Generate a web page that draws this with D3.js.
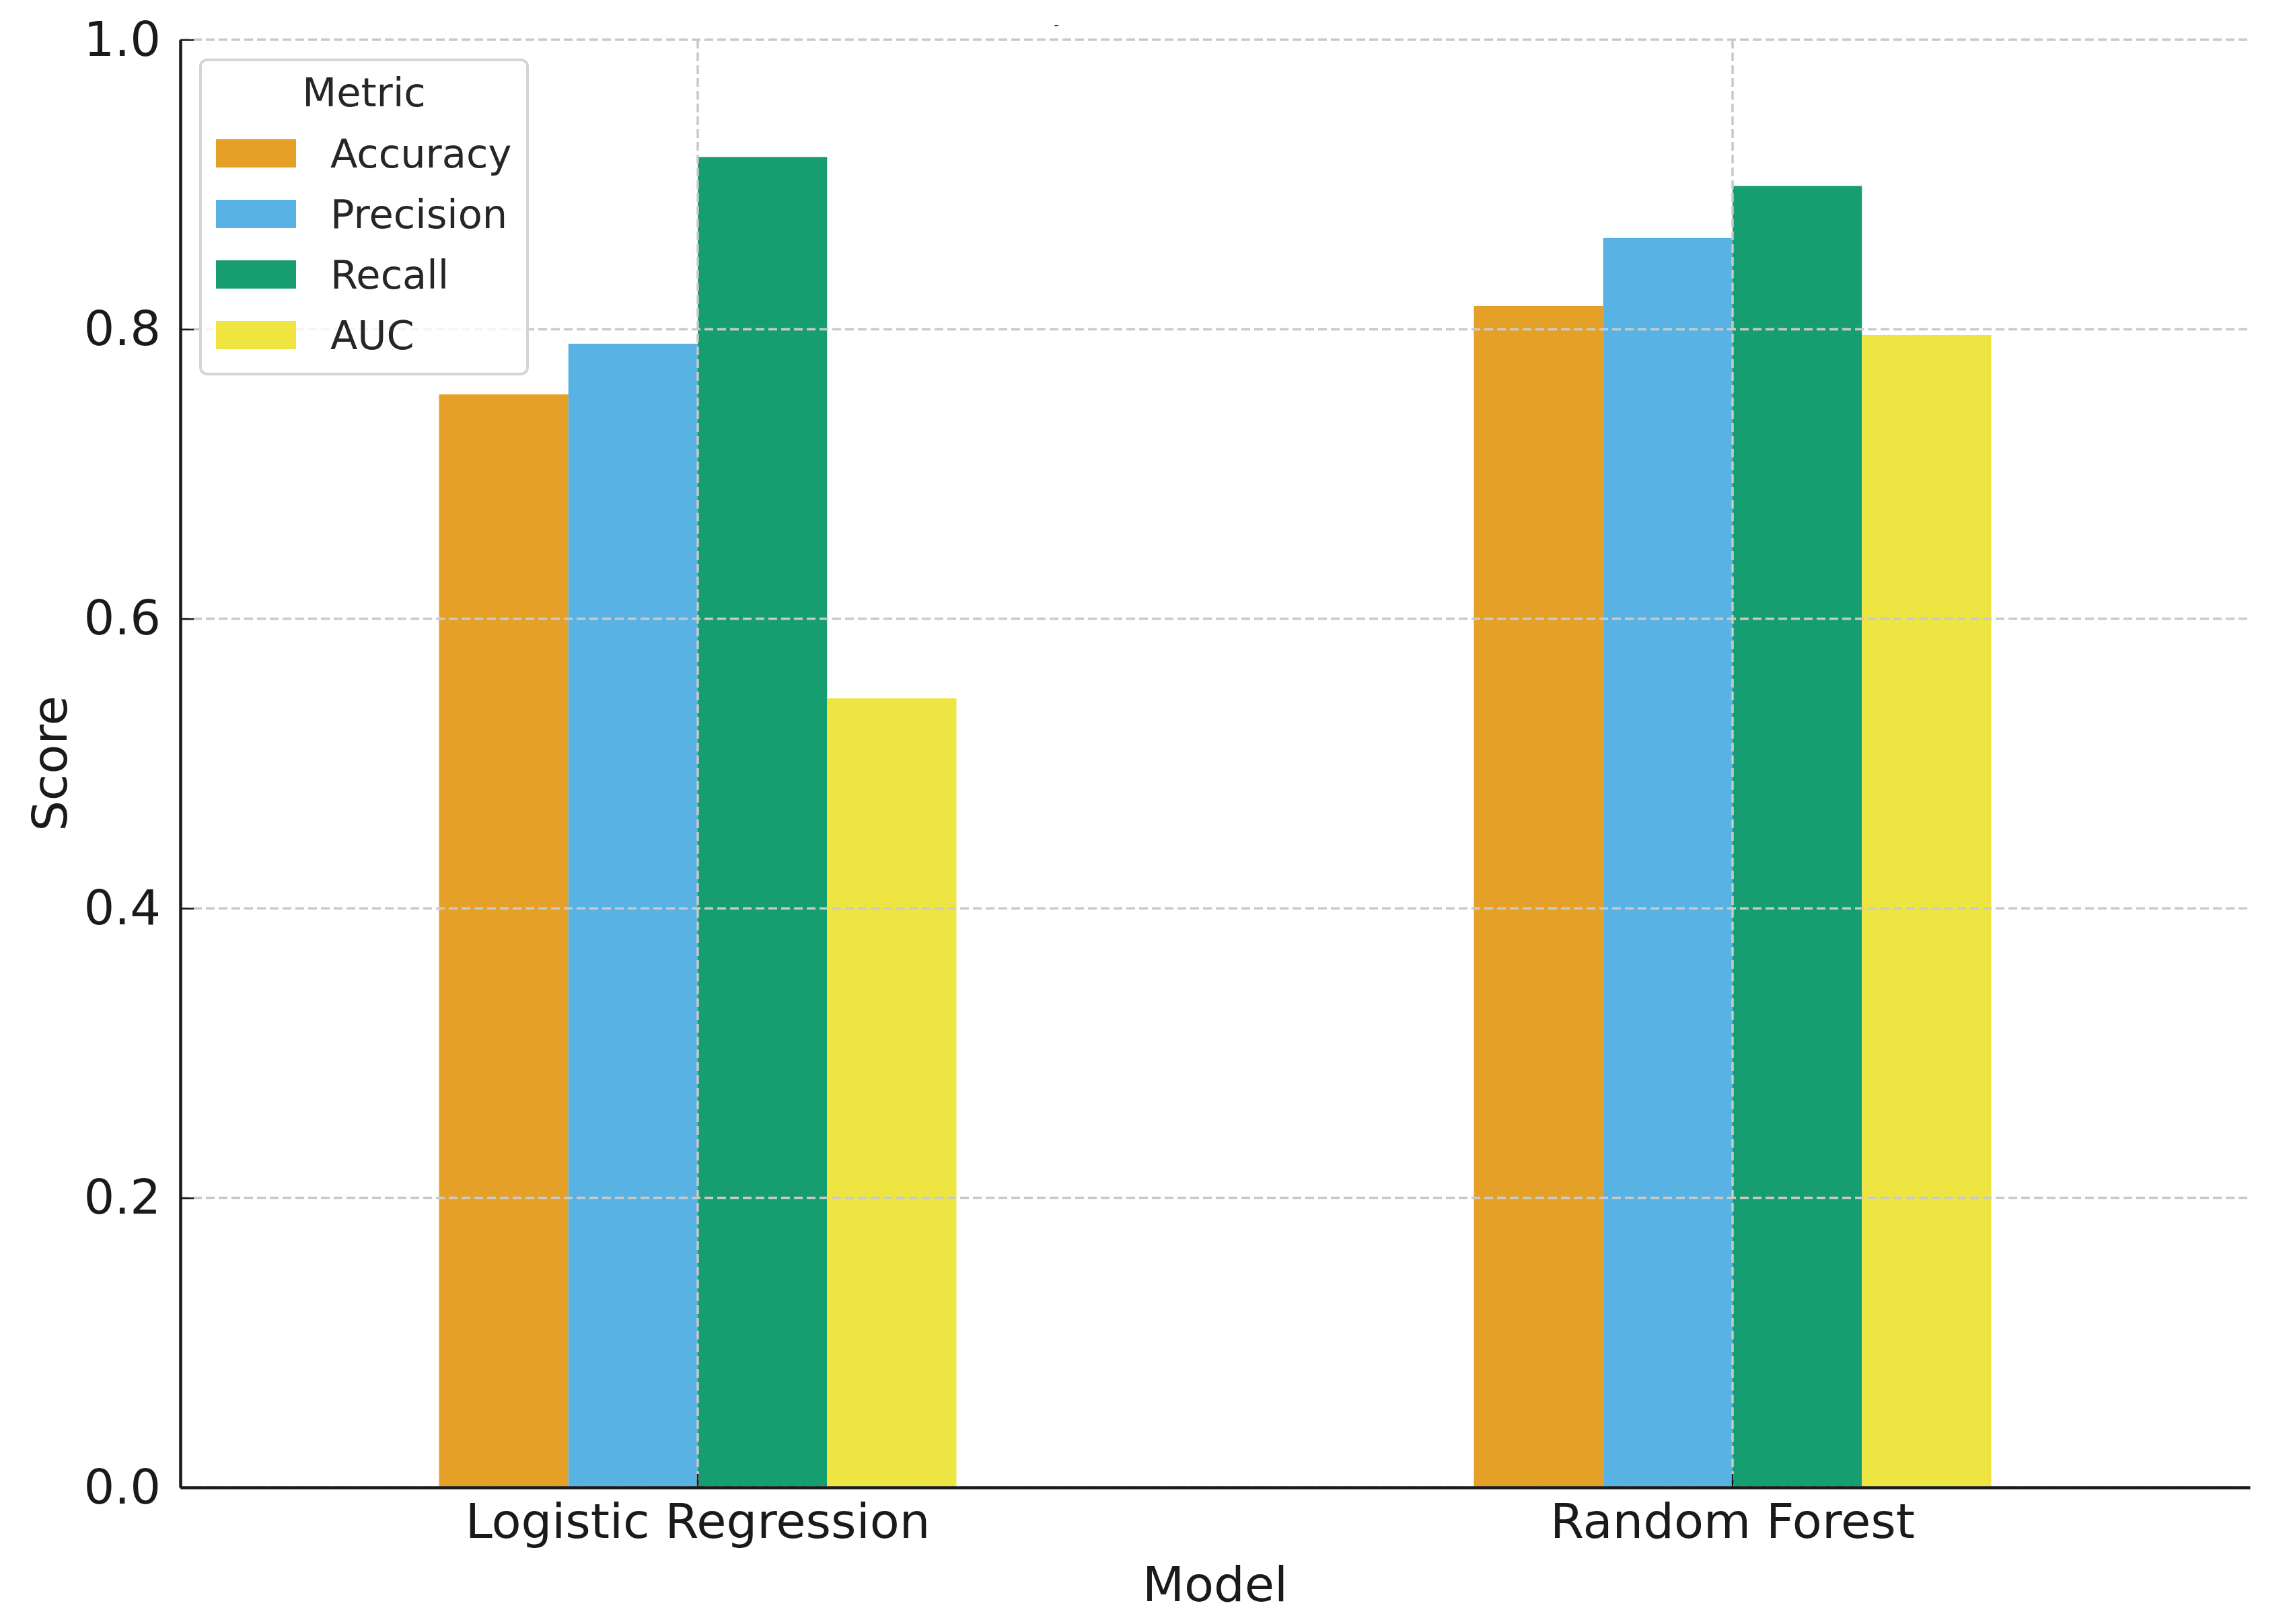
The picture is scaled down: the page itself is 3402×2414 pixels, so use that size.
<!DOCTYPE html>
<html>
<head>
<meta charset="utf-8">
<script src="https://cdn.jsdelivr.net/npm/d3@7"></script>
<style>
  body { margin: 0; background: #fff; }
  text { font-family: "DejaVu Sans", sans-serif; }
</style>
</head>
<body>
<div class="chart"></div>
<script>
// Data
var models = ["Logistic Regression", "Random Forest"];
var metrics = ["Accuracy", "Precision", "Recall", "AUC"];
var accuracy = [0.755, 0.816];
var precision = [0.790, 0.863];
var recall = [0.919, 0.899];
var auc = [0.545, 0.796];
var yTicks = [0.0, 0.2, 0.4, 0.6, 0.8, 1.0];
var colors = ["#E5A027", "#58B2E4", "#169E71", "#EEE542"];

var seriesValues = [accuracy, precision, recall, auc];

// Canvas and plot area
var svgWidth = 3402;
var svgHeight = 2414;
var plot = { left: 268, right: 3344, top: 59, bottom: 2211 };

var svg = d3.select(".chart")
    .append("svg")
    .attr("width", svgWidth)
    .attr("height", svgHeight)
    .style("display", "block");

svg.append("rect")
    .attr("width", svgWidth)
    .attr("height", svgHeight)
    .attr("fill", "#fff");

// Scales
var x0 = d3.scaleBand()
    .domain(models)
    .range([plot.left, plot.right])
    .paddingInner(0.5)
    .paddingOuter(0.25);

var x1 = d3.scaleBand()
    .domain(metrics)
    .range([0, x0.bandwidth()]);

var y = d3.scaleLinear()
    .domain([0, 1])
    .range([plot.bottom, plot.top]);

// Bars
var rows = models.map(function(m, i) {
    return { model: m, values: metrics.map(function(k, j) {
        return { metric: k, value: seriesValues[j][i], color: colors[j] };
    }) };
});

var groups = svg.append("g")
    .selectAll("g")
    .data(rows)
    .enter()
    .append("g")
    .attr("transform", d => `translate(${x0(d.model)}, 0)`);

groups.selectAll("rect")
    .data(d => d.values)
    .enter()
    .append("rect")
    .attr("x", d => x1(d.metric))
    .attr("y", d => y(d.value))
    .attr("width", x1.bandwidth())
    .attr("height", d => y(0) - y(d.value))
    .attr("fill", d => d.color);

// Dashed grid, drawn over the bars like the reference
var grid = svg.append("g")
    .attr("stroke", "#c9c9c9")
    .attr("stroke-width", 3.5)
    .attr("stroke-dasharray", "13,6");

grid.selectAll("line.h")
    .data(yTicks)
    .enter()
    .append("line")
    .attr("class", "h")
    .attr("x1", plot.left)
    .attr("x2", plot.right)
    .attr("y1", d => y(d))
    .attr("y2", d => y(d));

grid.selectAll("line.v")
    .data(models)
    .enter()
    .append("line")
    .attr("class", "v")
    .attr("x1", d => x0(d) + x0.bandwidth() / 2)
    .attr("x2", d => x0(d) + x0.bandwidth() / 2)
    .attr("y1", plot.top)
    .attr("y2", plot.bottom);

// Axes
var leftAxis = d3.axisLeft(y)
    .tickValues(yTicks)
    .tickFormat(d3.format(".1f"))
    .tickSizeInner(-20)
    .tickSizeOuter(0)
    .tickPadding(29);

var bottomAxis = d3.axisBottom(x0)
    .tickSizeInner(-20)
    .tickSizeOuter(0)
    .tickPadding(24);

var yAxisG = svg.append("g")
    .attr("transform", `translate(${plot.left}, 0)`)
    .call(leftAxis);

var xAxisG = svg.append("g")
    .attr("transform", `translate(0, ${plot.bottom})`)
    .call(bottomAxis);

[yAxisG, xAxisG].forEach(function(g) {
    g.select(".domain")
        .attr("stroke", "#1a1a1a")
        .attr("stroke-width", 4.5);
    g.selectAll(".tick line")
        .attr("stroke", "#1a1a1a")
        .attr("stroke-width", 2.5);
    g.selectAll(".tick text")
        .attr("fill", "#1a1a1a")
        .style("font-size", "72px")
        .style("font-family", "DejaVu Sans");
});

// Axis labels
svg.append("text")
    .attr("x", (plot.left + plot.right) / 2)
    .attr("y", 2380)
    .attr("text-anchor", "middle")
    .attr("fill", "#1a1a1a")
    .style("font-size", "72px")
    .text("Model");

svg.append("text")
    .attr("transform", `translate(99, ${(plot.top + plot.bottom) / 2}) rotate(-90)`)
    .attr("text-anchor", "middle")
    .attr("fill", "#1a1a1a")
    .style("font-size", "72px")
    .text("Score");

// Tiny mark at the top (leftover title glyph in the reference)
svg.append("text")
    .attr("x", 1570)
    .attr("y", 44)
    .attr("text-anchor", "middle")
    .attr("fill", "#1a1a1a")
    .style("font-size", "22px")
    .text("-");

// Legend
var legend = svg.append("g");

legend.append("rect")
    .attr("x", 298)
    .attr("y", 89)
    .attr("width", 486)
    .attr("height", 467)
    .attr("rx", 10)
    .attr("fill", "#fff")
    .attr("fill-opacity", 0.8)
    .attr("stroke", "#d4d4d4")
    .attr("stroke-width", 4);

legend.append("text")
    .attr("x", 541)
    .attr("y", 158)
    .attr("text-anchor", "middle")
    .attr("fill", "#262626")
    .style("font-size", "59px")
    .text("Metric");

var items = legend.selectAll("g.item")
    .data(metrics)
    .enter()
    .append("g")
    .attr("class", "item")
    .attr("transform", (d, i) => `translate(0, ${i * 90})`);

items.append("rect")
    .attr("x", 321)
    .attr("y", 207)
    .attr("width", 119)
    .attr("height", 42)
    .attr("fill", (d, i) => colors[i]);

items.append("text")
    .attr("x", 491)
    .attr("y", 249)
    .attr("fill", "#262626")
    .style("font-size", "59px")
    .text(d => d);
</script>
</body>
</html>
